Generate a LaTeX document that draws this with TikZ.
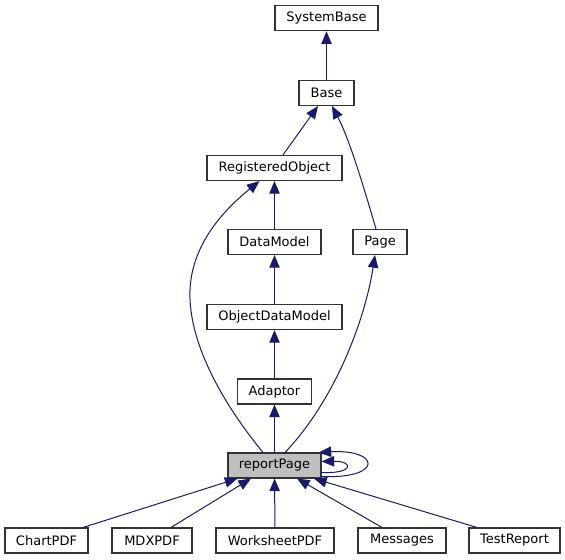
\documentclass[tikz,border=0pt]{standalone}
\usepackage{fontspec}
\setmainfont{DejaVu Sans}
\usetikzlibrary{arrows.meta,calc}
\definecolor{mblue}{HTML}{191970}
\begin{document}
\begin{tikzpicture}[x=0.75pt,y=-0.75pt,
  cls/.style={draw=black!80, line width=0.8pt, fill=white, inner sep=0pt,
    minimum height=25*0.75pt, font=\fontsize{9.75}{11}\selectfont, text=black},
  edge/.style={draw=mblue, line width=0.75pt, -{Triangle[length=9.5pt,width=7.8pt]}}]
\useasboundingbox (0,0) rectangle (565,560);
\node[cls, minimum width=103*0.75pt] (sb) at (326.5,18.3) {SystemBase};
\node[cls, minimum width=55*0.75pt] (base) at (326.5,93) {Base};
\node[cls, minimum width=135*0.75pt] (ro) at (274.5,168) {RegisteredObject};
\node[cls, minimum width=93*0.75pt] (dm) at (274.5,242) {DataModel};
\node[cls, minimum width=54*0.75pt] (page) at (380,242) {Page};
\node[cls, minimum width=135*0.75pt] (odm) at (274.5,317) {ObjectDataModel};
\node[cls, minimum width=74*0.75pt] (ad) at (274.5,391.5) {Adaptor};
\node[cls, minimum width=93*0.75pt, fill=black!25] (rp) at (274.5,465.5) {reportPage};
\node[cls, minimum width=83*0.75pt] (cp) at (46.5,540.5) {ChartPDF};
\node[cls, minimum width=80*0.75pt] (mdx) at (152,540.5) {MDXPDF};
\node[cls, minimum width=118*0.75pt] (ws) at (275,540.5) {WorksheetPDF};
\node[cls, minimum width=88*0.75pt] (msg) at (402,540.5) {Messages};
\node[cls, minimum width=91*0.75pt] (tr) at (514.5,540.5) {TestReport};
% edges
\draw[edge] (base) -- (sb);
\draw[edge] ($(ro.north)+(8.5,0)$) -- ($(base.south)+(-8.5,0)$);
\draw[edge] ($(page.north)+(-4,0)$) .. controls (366,195) and (350,140) .. ($(base.south)+(5.5,0)$);
\draw[edge] (dm) -- (ro);
\draw[edge] (odm) -- (dm);
\draw[edge] (ad) -- (odm);
\draw[edge] (rp) -- (ad);
\draw[edge] ($(rp.north)+(-11.5,0)$) .. controls (220,400) and (188,340) .. (190,290)
  .. controls (192,240) and (230,205) .. ($(ro.south)+(-15,0)$);
\draw[edge] ($(rp.north)+(10.5,0)$) .. controls (335,400) and (365,320) .. ($(page.south)+(-5,0)$);
\draw[edge] ($(rp.south east)+(0,-2)$) .. controls (384,479) and (380,449) .. ($(rp.north east)+(-3,0)$);
\draw[edge] ($(rp.east)+(0,7)$) .. controls (354,474) and (354,461) .. ($(rp.east)+(0,-4)$);
\draw[edge] ($(cp.north)+(36.5,0)$) -- ($(rp.south)+(-37,0)$);
\draw[edge] ($(mdx.north)+(19,0)$) -- ($(rp.south)+(-23.5,0)$);
\draw[edge] (ws) -- (rp);
\draw[edge] ($(msg.north)+(-20,0)$) -- ($(rp.south)+(22.5,0)$);
\draw[edge] ($(tr.north)+(-37.5,0)$) -- ($(rp.south)+(39.5,0)$);
\end{tikzpicture}
\end{document}
